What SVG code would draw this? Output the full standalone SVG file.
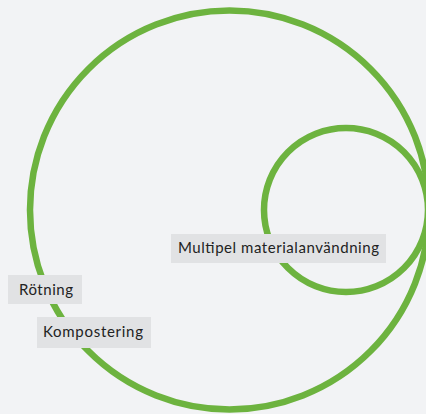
<svg xmlns="http://www.w3.org/2000/svg" width="426" height="414" viewBox="0 0 426 414">
  <style>
    .ring { fill: none; stroke: #6db33f; stroke-width: 6.5; }
    .lbl rect { fill: #e1e2e4; }
    .lbl text { font-family: Lato, "Noto Sans", "Liberation Sans", sans-serif; font-size: 15px; fill: #222222; text-anchor: middle; }
  </style>
  <rect x="0" y="0" width="426" height="414" fill="#f2f3f5"/>
  <g id="ring-outer"><circle class="ring" cx="229.5" cy="210" r="199.5"/></g>
  <g id="ring-inner"><circle class="ring" cx="346" cy="210" r="82"/></g>
  <g id="connectors"/>
  <g id="label-multipel" class="lbl">
    <rect x="171" y="234" width="215" height="29"/>
    <text x="278.5" y="253" textLength="201" lengthAdjust="spacing">Multipel materialanvändning</text>
  </g>
  <g id="label-rotning" class="lbl">
    <rect x="8" y="275" width="74" height="29"/>
    <text x="46" y="295" textLength="54" lengthAdjust="spacing">Rötning</text>
  </g>
  <g id="label-kompostering" class="lbl">
    <rect x="37" y="317" width="114" height="31"/>
    <text x="93" y="337" textLength="100" lengthAdjust="spacing">Kompostering</text>
  </g>
</svg>
